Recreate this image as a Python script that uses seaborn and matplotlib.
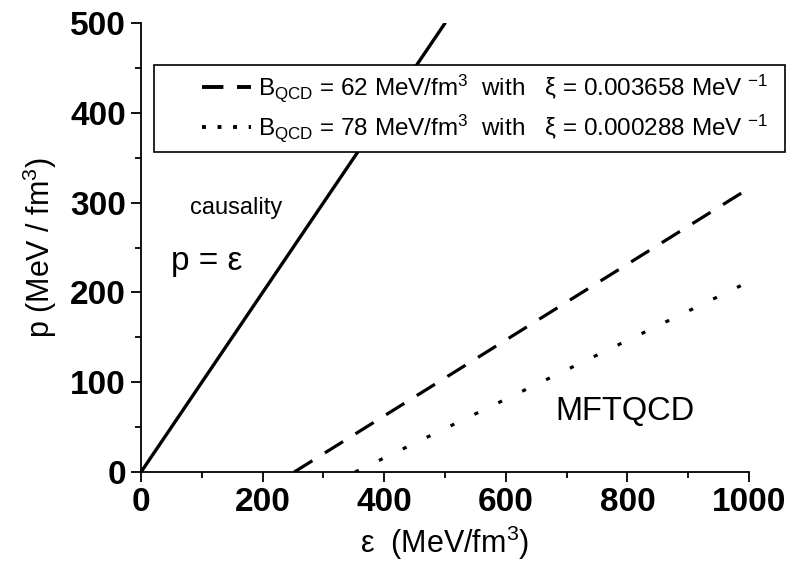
import matplotlib
matplotlib.use("Agg")
import matplotlib.pyplot as plt
from matplotlib.lines import Line2D
from matplotlib.patches import Rectangle
from matplotlib.ticker import MultipleLocator
import seaborn as sns
import pandas as pd

# ---- data ----
causal_eps = [0, 500]
causal_p = [0, 500]
b62_eps = [252, 1000]
b62_p = [0, 316]
b78_eps = [352, 1000]
b78_p = [0, 212]

x_ticks = [0, 200, 400, 600, 800, 1000]
y_ticks = [0, 100, 200, 300, 400, 500]

legend_labels = [
    r"B$_{\rm QCD}$ = 62 MeV/fm$^3$  with   ξ = 0.003658 MeV $^{-1}$",
    r"B$_{\rm QCD}$ = 78 MeV/fm$^3$  with   ξ = 0.000288 MeV $^{-1}$",
]

sns.set_theme(style="white")
plt.rcParams["font.family"] = ["Liberation Sans", "DejaVu Sans"]
plt.rcParams["mathtext.fontset"] = "custom"
plt.rcParams["mathtext.rm"] = "Liberation Sans"
plt.rcParams["mathtext.it"] = "Liberation Sans:italic"
plt.rcParams["mathtext.bf"] = "Liberation Sans:bold"
for k in ["text.color", "axes.labelcolor", "xtick.color", "ytick.color"]:
    plt.rcParams[k] = "black"

fig = plt.figure(figsize=(7.88, 5.65), dpi=100)
ax = fig.add_axes([0.179, 0.1646, 0.7715, 0.7944])

df_c = pd.DataFrame({"eps": causal_eps, "p": causal_p})
df_a = pd.DataFrame({"eps": b62_eps, "p": b62_p})
df_b = pd.DataFrame({"eps": b78_eps, "p": b78_p})

sns.lineplot(data=df_c, x="eps", y="p", ax=ax, color="black", lw=2.4)
sns.lineplot(data=df_a, x="eps", y="p", ax=ax, color="black", lw=2.3,
             linestyle=(0, (6.7, 4.6)))
sns.lineplot(data=df_b, x="eps", y="p", ax=ax, color="black", lw=2.3,
             linestyle=(0, (1.3, 7.0)))

ax.set_xlim(0, 1000)
ax.set_ylim(0, 500)
ax.set_xticks(x_ticks)
ax.set_yticks(y_ticks)
ax.xaxis.set_minor_locator(MultipleLocator(100))
ax.yaxis.set_minor_locator(MultipleLocator(50))
ax.tick_params(axis="both", which="major", direction="out", length=7, width=1.3,
               labelsize=24, color="black", labelcolor="black", pad=4,
               bottom=True, left=True)
ax.tick_params(axis="both", which="minor", direction="out", length=4, width=1.3,
               color="black", bottom=True, left=True)
for lab in ax.get_xticklabels() + ax.get_yticklabels():
    lab.set_fontweight("bold")

for side in ["top", "right"]:
    ax.spines[side].set_visible(False)
for side in ["left", "bottom"]:
    ax.spines[side].set_color("black")
    ax.spines[side].set_linewidth(1.3)

ax.set_xlabel(r"ε  (MeV/fm$^3$)", fontsize=22, labelpad=4)
ax.set_ylabel(r"p (MeV / fm$^3$)", fontsize=22, labelpad=8)

ax.text(156, 294, "causality", fontsize=17, ha="center", va="center")
ax.text(49, 234, "p = ε", fontsize=24, ha="left", va="center")
ax.text(681, 67, "MFTQCD", fontsize=23.5, ha="left", va="center")

# legend box (white-filled, hides the line beneath)
rect = Rectangle((0.021, 0.713), 1.038, 0.194, transform=ax.transAxes,
                 facecolor="white", edgecolor="black", lw=1.2, clip_on=False,
                 zorder=5)
ax.add_patch(rect)
handles = [
    Line2D([], [], color="black", lw=2.8, linestyle=(0, (5.5, 3.5))),
    Line2D([], [], color="black", lw=2.8, linestyle=(0, (1.0, 3.0))),
]
leg = ax.legend(handles, legend_labels, loc="center right",
                bbox_to_anchor=(1.048, 0.81), bbox_transform=ax.transAxes,
                frameon=False, fontsize=17.5, handlelength=2.0, handletextpad=0.3,
                labelspacing=0.35, borderaxespad=0)
leg.set_zorder(6)

fig.savefig("out.png", dpi=100)
